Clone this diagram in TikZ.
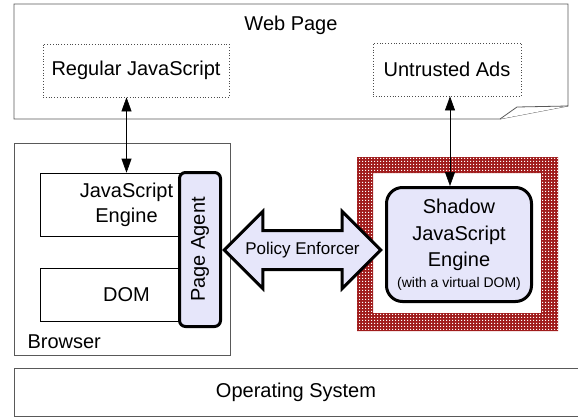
\documentclass[tikz,border=0pt]{standalone}
\usepackage{fontspec}
\setmainfont{Liberation Sans}
\usetikzlibrary{arrows.meta, shapes.arrows, patterns}
\definecolor{agentblue}{RGB}{230,230,250}
\definecolor{shadowred}{RGB}{160,28,28}
\pgfdeclarepatternformonly{finechecker}{\pgfpointorigin}{\pgfqpoint{2.6pt}{2.6pt}}{\pgfqpoint{2.6pt}{2.6pt}}{%
  \pgfpathrectangle{\pgfpointorigin}{\pgfqpoint{1.3pt}{1.3pt}}%
  \pgfusepath{fill}}
\tikzset{
  layerbox/.style={draw=black!65, line width=0.8pt, inner sep=0pt},
  plainbox/.style={draw, line width=0.6pt, fill=white, inner sep=0pt, align=center},
  scriptbox/.style={draw=black!70, dotted, line width=0.8pt, inner sep=0pt},
  agent/.style={draw, line width=3pt, fill=agentblue, rounded corners=6pt, inner sep=0pt},
  link/.style={{Triangle[length=14pt,width=10pt]}-{Triangle[length=14pt,width=10pt]}, line width=0.6pt},
}

\begin{document}
\begin{tikzpicture}[x=1pt, y=-1pt, font=\fontsize{20}{25}\selectfont]
\useasboundingbox (0,0) rectangle (578,418);
% ---- web page with its curled corner ----
\draw[layerbox, fill=white] (14,4) -- (568,4) -- (568,106) -- (500,119) -- (14,119) -- cycle;
\draw[layerbox, fill=white, line join=bevel] (500,119) -- (517,107) -- (568,106);
\node (webpage) at (291,25) {Web Page};
\node[scriptbox, minimum width=186pt, minimum height=53pt] (regjs) at (136,70.5) {Regular JavaScript};
\node[scriptbox, minimum width=148pt, minimum height=53pt] (ads) at (447,69.5) {Untrusted Ads};
% ---- browser ----
\node[layerbox, minimum width=216pt, minimum height=212pt] (browser) at (122,249) {};
\node[anchor=west] (browserlabel) at (24,342) {Browser};
\node[plainbox, minimum width=173pt, minimum height=63pt] (jsengine) at (126.5,204.5) {JavaScript\\Engine};
\node[plainbox, minimum width=173pt, minimum height=53pt] (dom) at (126.5,294.5) {DOM};
\node[agent, rotate=90, minimum width=154pt, minimum height=41pt] (pageagent) at (200,249.5) {Page Agent};
% ---- shadow sandbox ----
\fill[shadowred, even odd rule] (357,157) rectangle (558,331) (373,173) rectangle (541,313);
\fill[pattern=finechecker, pattern color=white, even odd rule]
  (357,157) rectangle (558,331) (373,173) rectangle (541,313);
\node[agent, rounded corners=16pt, minimum width=145pt, minimum height=114pt, align=center,
  font=\fontsize{20}{26.5}\selectfont] (shadow) at (459,244.5)
  {Shadow\\JavaScript\\Engine\\[-6pt]{\fontsize{14}{16}\selectfont (with a virtual DOM)}};
% ---- policy enforcer ----
\node[double arrow, draw, line width=3pt, fill=agentblue, font=\fontsize{17}{20}\selectfont,
  minimum height=154pt, minimum width=75pt, double arrow head extend=19pt,
  inner xsep=0pt, inner ysep=10pt, text height=12pt, text depth=4pt] (enforcer) at (302.5,250) {Policy Enforcer};
% ---- links ----
\draw[link] (regjs.south -| jsengine.north) -- (jsengine.north);
\draw[link] ([xshift=3pt]ads.south) -- ([xshift=3pt]ads.south |- shadow.north);
% ---- operating system ----
\node[layerbox, minimum width=590pt, minimum height=48pt, anchor=north west] (os) at (14,368) {};
\node (oslabel) at (296,392) {Operating System};
\end{tikzpicture}
\end{document}
